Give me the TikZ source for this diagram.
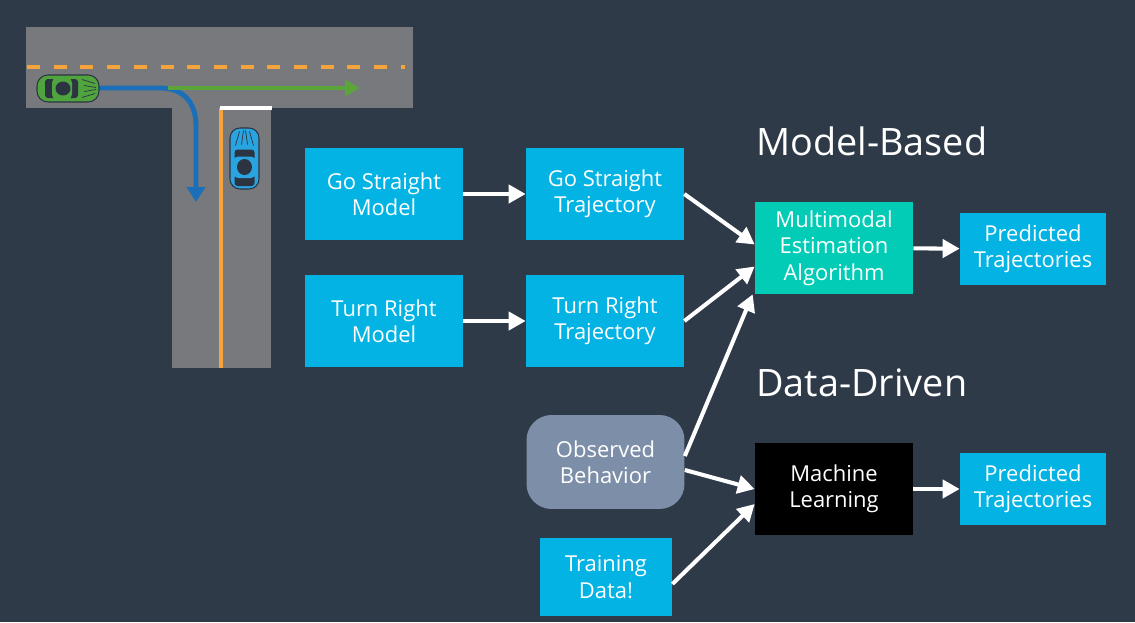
\documentclass[tikz,border=0pt]{standalone}
\usepackage{fontspec}
\setmainfont{Open Sans}
\usetikzlibrary{arrows.meta}

\definecolor{bgdark}{HTML}{2F3A48}
\definecolor{roadgrey}{HTML}{77797D}
\definecolor{laneorange}{HTML}{F5A33B}
\definecolor{boxblue}{HTML}{02B3E4}
\definecolor{boxteal}{HTML}{02CCB5}
\definecolor{obsgrey}{HTML}{7D8FA8}
\definecolor{pathblue}{HTML}{1A6FB8}
\definecolor{pathgreen}{HTML}{5BA53A}
\definecolor{cargreen}{HTML}{4FA43E}
\definecolor{carblue}{HTML}{2AA4E0}
\definecolor{cardark}{HTML}{2C3442}

\begin{document}
\begin{tikzpicture}[x=0.02cm, y=-0.02cm,
    box/.style={fill=boxblue, text=white, align=center, inner sep=0pt,
        minimum width=3.16cm, minimum height=1.84cm, font=\fontsize{12.5}{15}\selectfont},
    flow/.style={draw=white, line width=2.3pt, -{Triangle[length=0.34cm, width=0.36cm]}},
    heading/.style={text=white, anchor=base west, inner sep=0pt, font=\fontsize{21.5}{24}\selectfont}]
    \fill[bgdark] (0,0) rectangle (1135,622);
    \useasboundingbox (0,0) rectangle (1135,622);

    % road
    \fill[roadgrey] (26,27) rectangle (413,108);
    \fill[roadgrey] (172,107) rectangle (271,368);
    \draw[laneorange, line width=2pt, dash pattern=on 7.4pt off 7.8pt] (27,67) -- (405,67);
    \draw[laneorange, line width=2pt] (221,108) -- (221,368);
    \draw[white, line width=2pt] (220,108) -- (272,108);

    % paths
    \draw[pathblue, line width=2.8pt, -{Triangle[length=0.3cm, width=0.36cm]}]
        (99,88) -- (160,88) .. controls (183,88) and (196,102) .. (196,126) -- (196,202);
    \draw[pathgreen, line width=2.3pt, -{Triangle[length=0.3cm, width=0.32cm]}] (168,88) -- (360,88);

    % green car
    \begin{scope}[shift={(68,88.5)}]
        \filldraw[fill=cargreen, draw=cardark, line width=0.6pt, rounded corners=0.22cm] (-31,-13.5) rectangle (31,13.5);
        \fill[cardark, rounded corners=0.06cm] (-23,-9.5) rectangle (10,9.5);
        \fill[cargreen, rounded corners=0.1cm] (-16,-11) rectangle (4,11);
        \fill[cardark] (-5,0) ellipse (0.15cm and 0.14cm);
        \draw[cardark, line width=0.4pt] (14,-9) -- (27,-5) (14,9) -- (27,5) (16,-3) -- (28,-1) (16,3) -- (28,1);
    \end{scope}

    % blue car
    \begin{scope}[shift={(244.5,158.5)}]
        \filldraw[fill=carblue, draw=cardark, line width=0.6pt, rounded corners=0.2cm] (-14.5,-30.5) rectangle (14.5,30.5);
        \fill[cardark, rounded corners=0.06cm] (-10,-9) rectangle (10,27.5);
        \fill[carblue, rounded corners=0.1cm] (-11.5,-2) rectangle (11.5,19.5);
        \fill[cardark] (0,8.5) ellipse (0.15cm and 0.16cm);
        \draw[cardark, line width=0.4pt] (-9,-13) -- (-5,-27) (9,-13) -- (5,-27) (-3,-14) -- (-1,-28) (3,-14) -- (1,-28);
    \end{scope}

    % nodes
    \node[box] (gsm) at (384,194) {Go Straight\\Model};
    \node[box] (gst) at (605,194) {Go Straight\\Trajectory};
    \node[box] (trm) at (384,321) {Turn Right\\Model};
    \node[box] (trt) at (605,321) {Turn Right\\Trajectory};
    \node[box, fill=boxteal] (mea) at (834,248) {Multimodal\\Estimation\\Algorithm};
    \node[box, minimum width=2.92cm, minimum height=1.44cm] (pt1) at (1033,249) {Predicted\\Trajectories};
    \node[box, fill=obsgrey, rounded corners=0.5cm, minimum height=1.88cm] (ob) at (605.5,462) {Observed\\Behavior};
    \node[box, fill=black] (ml) at (834,489) {Machine\\Learning};
    \node[box, minimum width=2.92cm, minimum height=1.44cm] (pt2) at (1033,489) {Predicted\\Trajectories};
    \node[box, minimum width=2.64cm, minimum height=1.56cm] (td) at (606,577) {Training\\Data!};

    \node[heading] (mb) at (756,155) {Model-Based};
    \node[heading] (dd) at (756,396) {Data-Driven};

    % arrows
    \draw[flow] (gsm) -- (gst);
    \draw[flow] (trm) -- (trt);
    \draw[flow] (gst.east) -- ([yshift=0.07cm]mea.west);
    \draw[flow] (trt.east) -- ([yshift=-0.37cm]mea.west);
    \draw[flow] ([yshift=0.12cm]ob.east) -- ([xshift=-0.04cm]mea.south west);
    \draw[flow] ([yshift=-0.16cm]ob.east) -- (ml.west);
    \draw[flow] ([yshift=-0.14cm]td.east) -- ([yshift=-0.3cm]ml.west);
    \draw[flow] (mea) -- (pt1);
    \draw[flow] (ml) -- (pt2);
\end{tikzpicture}
\end{document}
